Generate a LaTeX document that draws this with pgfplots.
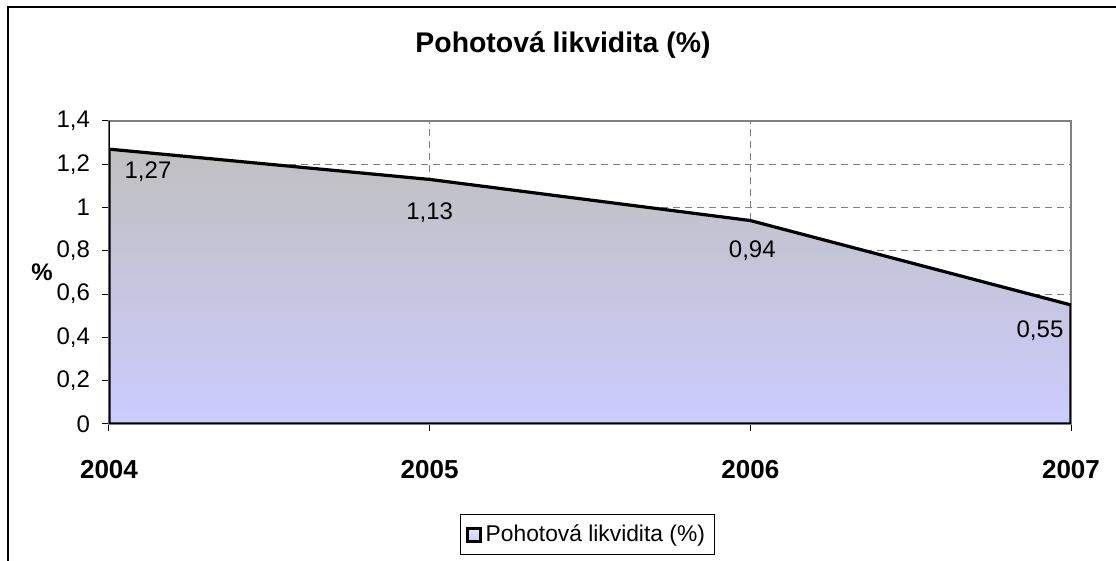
\documentclass[border=0pt]{standalone}
\usepackage{fontspec}
\setmainfont{Liberation Sans}
\usepackage{pgfplots}
\usepackage{pgfplotstable}
\pgfplotsset{compat=1.18}
\definecolor{fillTop}{RGB}{192,192,192}
\definecolor{fillBot}{RGB}{204,204,255}
\pgfplotstableread{
x y lbl dx dy
0 1.27 1,27 19.5 -11.5
1 1.13 1,13 0 -16.5
2 0.94 0,94 1 -15
3 0.55 0,55 -15.5 -13
}\datatable
\begin{document}
\begin{tikzpicture}[x=1pt,y=1pt]
\useasboundingbox (0,0) rectangle (558,280.5);
\draw[line width=0.6pt] (4,-2) -- (4,277) -- (560,277);
\node[font=\bfseries\fontsize{14.2}{16}\selectfont] at (281.5,258) {Pohotová likvidita (\%)};
\begin{axis}[
  at={(54.5pt,68.5pt)}, anchor=south west,
  scale only axis, width=481pt, height=151.5pt,
  xmin=0, xmax=3, ymin=0, ymax=1.4,
  xtick={0,1,2,3}, xticklabels={2004,2005,2006,2007},
  ytick={0,0.2,0.4,0.6,0.8,1,1.2,1.4},
  yticklabels={0,{0,2},{0,4},{0,6},{0,8},1,{1,2},{1,4}},
  xtick pos=left, ytick pos=left, tick align=outside,
  major tick length=3.5pt,
  tick style={black, line width=0.5pt},
  axis line style={gray, line width=0.8pt},
  grid=major,
  major grid style={gray, line width=0.5pt, dash pattern=on 3.5pt off 2.5pt},
  xticklabel style={font=\bfseries\fontsize{13}{15}\selectfont, yshift=-11pt},
  yticklabel style={font=\fontsize{12}{14}\selectfont, xshift=-2.5pt},
  ylabel={\%},
  ylabel style={font=\bfseries\fontsize{12}{14}\selectfont, rotate=-90, at={(axis description cs:0,0.5)}, anchor=center, xshift=-33.5pt},
  legend style={at={(axis description cs:0.4974,-0.366)}, anchor=center, draw=black, line width=0.5pt, font=\fontsize{11.4}{13}\selectfont, inner xsep=3pt, inner ysep=3pt},
  legend image code/.code={\draw[line width=1.3pt, black, top color=fillBot!50!white, bottom color=fillBot] (0pt,-3.2pt) rectangle (6.5pt,3.2pt);},
]
\addplot[draw=black, line width=1.6pt, top color=fillTop, bottom color=fillBot] table[x=x,y=y] {\datatable} \closedcycle;
\addlegendentry{Pohotová likvidita (\%)}
\addplot[forget plot, draw=none, mark=none, nodes near coords, point meta=explicit symbolic,
  visualization depends on={\thisrow{dx}\as\dx},
  visualization depends on={\thisrow{dy}\as\dy},
  every node near coord/.append style={anchor=center, xshift=\dx pt, yshift=\dy pt, font=\fontsize{12}{14}\selectfont, text=black}]
  table[x=x,y=y,meta=lbl] {\datatable};
\draw[black, line width=0.6pt] (rel axis cs:0,0) -- (rel axis cs:0,1);
\end{axis}
\end{tikzpicture}
\end{document}
